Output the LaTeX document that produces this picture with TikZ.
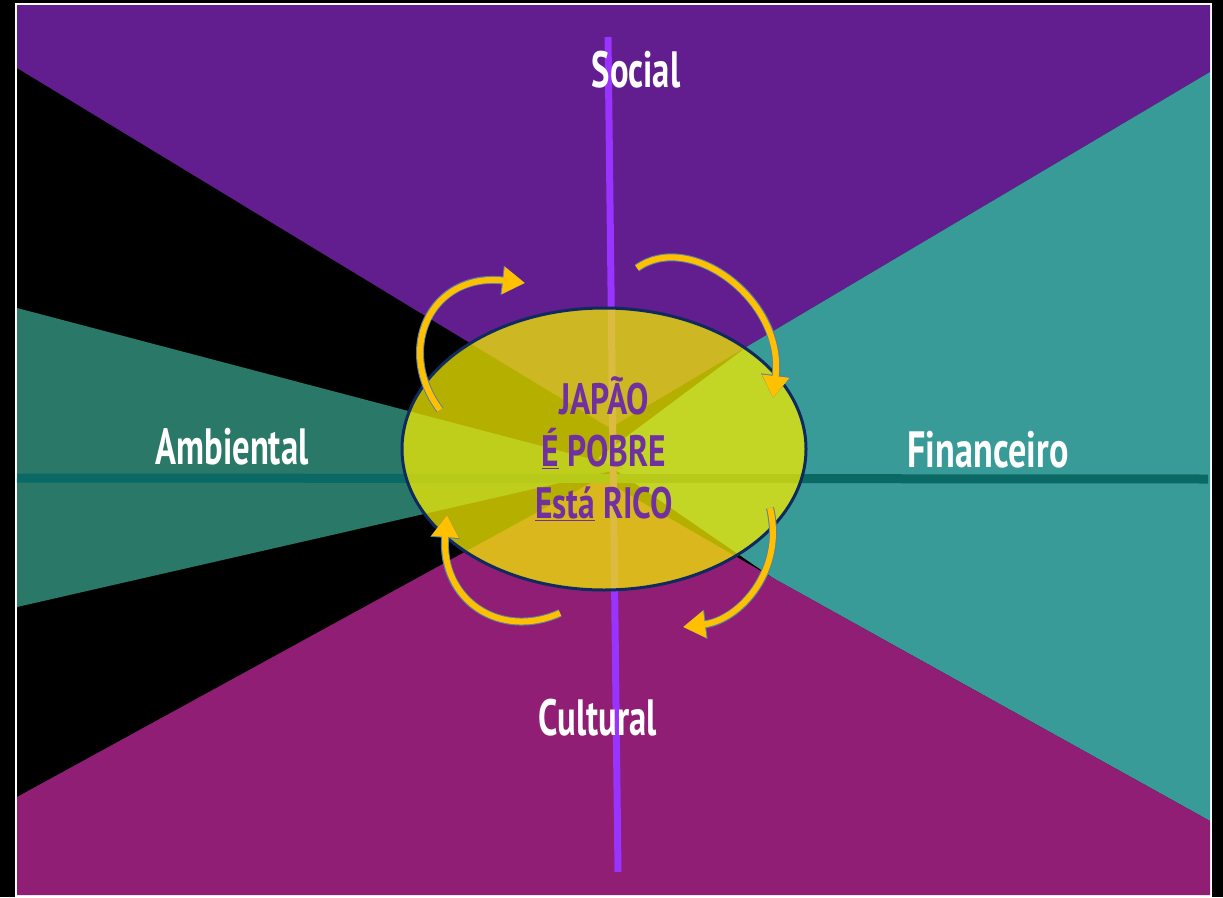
\documentclass[tikz,border=0pt]{standalone}
\usepackage{fontspec}
\setmainfont{PT Sans}
\usepackage{graphicx}
\usetikzlibrary{
	arrows.meta,
	shapes.geometric,
}
\definecolor{socialpurple}{HTML}{621D8E}
\definecolor{culturalplum}{HTML}{8F1E74}
\definecolor{financeteal}{HTML}{389B98}
\definecolor{ambientgreen}{HTML}{2A7868}
\definecolor{axisteal}{HTML}{0A6964}
\definecolor{axisviolet}{HTML}{9933FF}
\definecolor{coreyellow}{HTML}{F2EB00}
\definecolor{coreedge}{HTML}{0E2A5E}
\definecolor{coretext}{HTML}{7030A0}
\definecolor{arrowgold}{HTML}{FFC000}
\definecolor{arrowedge}{HTML}{5B7FA8}
\newcommand{\squeezed}[2][0.68]{\scalebox{#1}[1]{#2}}
\tikzset{axis label/.style={text=white,inner sep=0pt,font=\fontsize{51}{60}\selectfont\bfseries,}}
\tikzset{core/.style={ellipse,draw=coreedge,line width=3pt,fill=coreyellow,fill opacity=0.75,text opacity=1,text=coretext,align=center,inner sep=0pt,font=\fontsize{44}{52}\selectfont\bfseries,}}
\tikzset{turn/.style={draw=arrowgold,line width=6pt,line cap=butt,-{Triangle[length=22pt,width=26pt]},preaction={draw=arrowedge,line width=8pt,-{Triangle[length=23pt,width=28pt]}},}}
\tikzset{axis/.style={line width=7pt,}}

\begin{document}
\begin{tikzpicture}[x=1pt,y=-1pt]
\useasboundingbox (0,0) rectangle (1223,897);
\fill[black] (0,0) rectangle (1223,897);
\draw[white,line width=1.5pt] (16,4) rectangle (1211,896);

\fill[socialpurple] (17,5) -- (1210,5) -- (1210,72) -- (748,346) -- (610,428) -- (17,68) -- cycle;
\fill[financeteal] (1210,72) -- (1210,821) -- (773,578) -- (598,458) -- (748,346) -- cycle;
\fill[ambientgreen] (17,308) -- (17,607) -- (625,468) -- cycle;
\fill[culturalplum] (17,797) -- (600,478) -- (773,578) -- (1210,821) -- (1210,895) -- (17,895) -- cycle;

\draw[axis,axisteal,line width=9pt] (17,478) -- (1208,479);
\draw[axis,axisviolet] (608,37) -- (618,872);

\node[core,minimum width=404pt,minimum height=282pt] (japao) at (604,449)
{\squeezed[0.76]{JAPÃO}\\\squeezed[0.76]{\underline{É} POBRE}\\\squeezed[0.76]{\underline{Está} RICO}};

\node[axis label] (social) at (636,70) {\squeezed{Social}};
\node[axis label] (ambiental) at (232,447) {\squeezed{Ambiental}};
\node[axis label] (financeiro) at (988,450) {\squeezed[0.71]{Financeiro}};
\node[axis label] (cultural) at (598,718) {\squeezed{Cultural}};

\coordinate (ul tail) at (440,410);
\coordinate (ul head) at (525,283);
\coordinate (ur tail) at (637,268);
\coordinate (ur head) at (773,398);
\coordinate (lr tail) at (770,508);
\coordinate (lr head) at (683,627);
\coordinate (ll tail) at (560,613);
\coordinate (ll head) at (447,515);

\draw[turn] (ul tail) .. controls (395,350) and (430,272) .. (ul head);
\draw[turn] (ur tail) .. controls (690,230) and (785,300) .. (ur head);
\draw[turn] (lr tail) .. controls (785,570) and (740,620) .. (lr head);
\draw[turn] (ll tail) .. controls (500,640) and (440,600) .. (ll head);
\end{tikzpicture}
\end{document}
